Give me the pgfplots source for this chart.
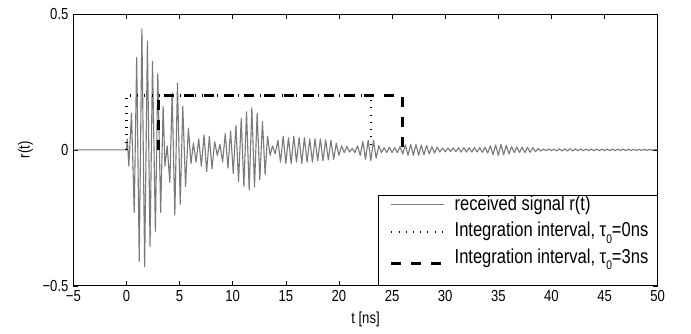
\documentclass[border=0pt]{standalone}
\usepackage{fontspec}
\setmainfont{Liberation Sans}[FakeStretch=0.82]
\usepackage{pgfplots}
\pgfplotsset{compat=1.18}

\newcommand{\taunull}[1]{τ\raisebox{-4.5pt}{\fontsize{9}{10}\selectfont 0}=#1ns}

% legend sample: a 38pt line, raised by the given offset
\pgfplotsset{
  legline/.style={legend image code/.code={\path (0pt,0pt) (46pt,0pt);
    \draw[##1] (1.5pt,#1) -- (39.5pt,#1);}},
}

\begin{document}
\begin{tikzpicture}
\begin{axis}[
  name=ax,
  scale only axis,
  width=420.5pt, height=195.7pt,
  xmin=-5, xmax=50, ymin=-0.5, ymax=0.5,
  xtick={-5,0,...,50},
  xticklabels={−5,0,5,10,15,20,25,30,35,40,45,50},
  ytick={-0.5,0,0.5},
  yticklabels={−0.5,0,0.5},
  tick align=inside,
  major tick length=3.6pt,
  tick style={black, line width=0.4pt},
  axis line style={line width=0.5pt},
  every tick label/.append style={font=\fontsize{11.5}{13}\selectfont},
  label style={font=\fontsize{11.5}{13}\selectfont},
  xlabel={t [ns]}, ylabel={r(t)},
  legend style={at={(1,0)}, anchor=south east, draw=black, line width=0.5pt,
    fill=white, font=\fontsize{14.5}{16}\selectfont,
    inner xsep=6.5pt, inner ysep=0.5pt, row sep=5pt,
    cells={anchor=base west},
    nodes={inner sep=0pt, text height=10.5pt, text depth=3.5pt}},
]
% received waveform: extrema of the multipath response
\addplot[black!52, line width=0.8pt, line join=round, legline=4.5pt] coordinates {
(-5,0) (0,0) (0.08,0.04) (0.22,-0.06) (0.47,0.135) (0.73,-0.23) (0.96,0.34) (1.20,-0.41)
(1.45,0.445) (1.71,-0.43) (1.97,0.40) (2.22,-0.355) (2.45,0.325) (2.72,-0.30) (2.95,0.28)
(3.22,-0.23) (3.45,0.16) (3.62,-0.06) (3.83,0.015) (4.08,-0.12) (4.30,0.21) (4.55,-0.24)
(4.80,0.245) (5.06,-0.20) (5.30,0.16) (5.56,-0.135) (5.83,0.08) (6.07,-0.05) (6.30,0.025)
(6.55,-0.045) (6.80,0.04) (7.05,-0.06) (7.30,0.055) (7.55,-0.08) (7.80,0.05) (8.05,-0.07)
(8.30,0.03) (8.55,-0.02) (8.80,0.02) (9.05,-0.045) (9.30,0.06) (9.55,-0.067) (9.80,0.07)
(10.05,-0.087) (10.30,0.09) (10.55,-0.117) (10.80,0.115) (11.05,-0.135) (11.30,0.14)
(11.55,-0.147) (11.80,0.155) (12.05,-0.137) (12.30,0.135) (12.55,-0.11) (12.80,0.104)
(13.05,-0.09) (13.28,0.05) (13.52,-0.02) (13.75,0.015) (14.00,-0.015) (14.25,0.035)
(14.50,-0.045) (14.75,0.05) (15.00,-0.05) (15.25,0.045) (15.50,-0.05) (15.75,0.05)
(16.00,-0.045) (16.25,0.045) (16.50,-0.05) (16.75,0.045) (17.00,-0.045) (17.25,0.04)
(17.50,-0.045) (17.75,0.04) (18.00,-0.04) (18.25,0.04) (18.50,-0.04) (18.75,0.037)
(19.00,-0.037) (19.25,0.035) (19.50,-0.035) (19.75,0.025) (20.00,-0.02) (20.25,0.015)
(20.50,-0.01) (20.75,0.012) (21.00,-0.008) (21.25,0.006) (21.50,-0.01) (21.75,0.015)
(22.00,-0.02) (22.25,0.03) (22.50,-0.035) (22.75,0.035) (23.00,-0.04) (23.25,0.035)
(23.50,-0.03) (23.75,0.015) (24.00,-0.01) (24.25,0.008) (24.50,-0.01) (24.75,0.01)
(25.00,-0.01) (25.25,0.008) (25.50,-0.01) (25.75,0.012) (26.00,-0.015) (26.25,0.018)
(26.50,-0.02) (26.75,0.02) (27.00,-0.02) (27.25,0.02) (27.50,-0.02) (27.75,0.018)
(28.00,-0.018) (28.25,0.016) (28.50,-0.015) (28.75,0.012) (29.00,-0.012) (29.25,0.01)
(29.50,-0.008) (29.75,0.007) (30.00,-0.007) (30.25,0.006) (30.50,-0.006) (30.75,0.007)
(31.00,-0.007) (31.25,0.008) (31.50,-0.008) (31.75,0.008) (32.00,-0.008) (32.25,0.008)
(32.50,-0.008) (32.75,0.008) (33.00,-0.008) (33.25,0.008) (33.50,-0.009) (33.75,0.01)
(34.00,-0.012) (34.25,0.015) (34.50,-0.018) (34.75,0.018) (35.00,-0.02) (35.25,0.02)
(35.50,-0.018) (35.75,0.017) (36.00,-0.015) (36.25,0.012) (36.50,-0.01) (36.75,0.01)
(37.00,-0.01) (37.25,0.01) (37.50,-0.01) (37.75,0.009) (38.00,-0.009) (38.25,0.008)
(38.50,-0.007) (38.75,0.005) (39.00,-0.004) (39.25,0.003) (39.50,-0.003) (39.75,0.003)
(40.00,-0.003) (40.25,0.003) (40.50,-0.004) (40.75,0.004) (41.00,-0.004) (41.25,0.004)
(41.50,-0.004) (41.75,0.004) (42.00,-0.004) (42.25,0.004) (42.50,-0.003) (42.75,0.003)
(43.00,-0.003) (43.25,0.003) (43.50,-0.003) (43.75,0.003) (44.00,-0.003) (44.25,0.003)
(44.50,-0.003) (44.75,0.003) (45.00,-0.003) (45.25,0.003) (45.50,-0.003) (45.75,0.003)
(46.00,-0.003) (46.25,0.003) (46.50,-0.003) (46.75,0.003) (47.00,-0.003) (47.25,0.002)
(47.50,-0.002) (47.75,0.002) (48.00,-0.002) (48.25,0.002) (48.50,-0.002) (48.75,0.002)
(49.00,-0.002) (49.25,0.002) (49.50,-0.002) (49.75,0.002) (50.00,0)
};
\addlegendentry{received signal r(t)}
% integration window starting at 0 ns
\addplot[black, line width=1.7pt, dash pattern=on 0.7pt off 4.5pt, legline=3.6pt] coordinates {
(0,0) (0,0.2) (23,0.2) (23,0)
};
\addlegendentry{Integration interval, \taunull{0}}
% integration window starting at 3 ns
\addplot[black, line width=2.2pt, dash pattern=on 7.2pt off 7.2pt, legline=-0.5pt] coordinates {
(3,0) (3,0.2) (26,0.2) (26,0)
};
\addlegendentry[text depth=15.5pt]{Integration interval, \taunull{3}}
\end{axis}
\pgfresetboundingbox
\path ([xshift=-52.8pt,yshift=-34.5pt]ax.south west) rectangle ([xshift=24pt,yshift=10pt]ax.north east);
\end{tikzpicture}
\end{document}
